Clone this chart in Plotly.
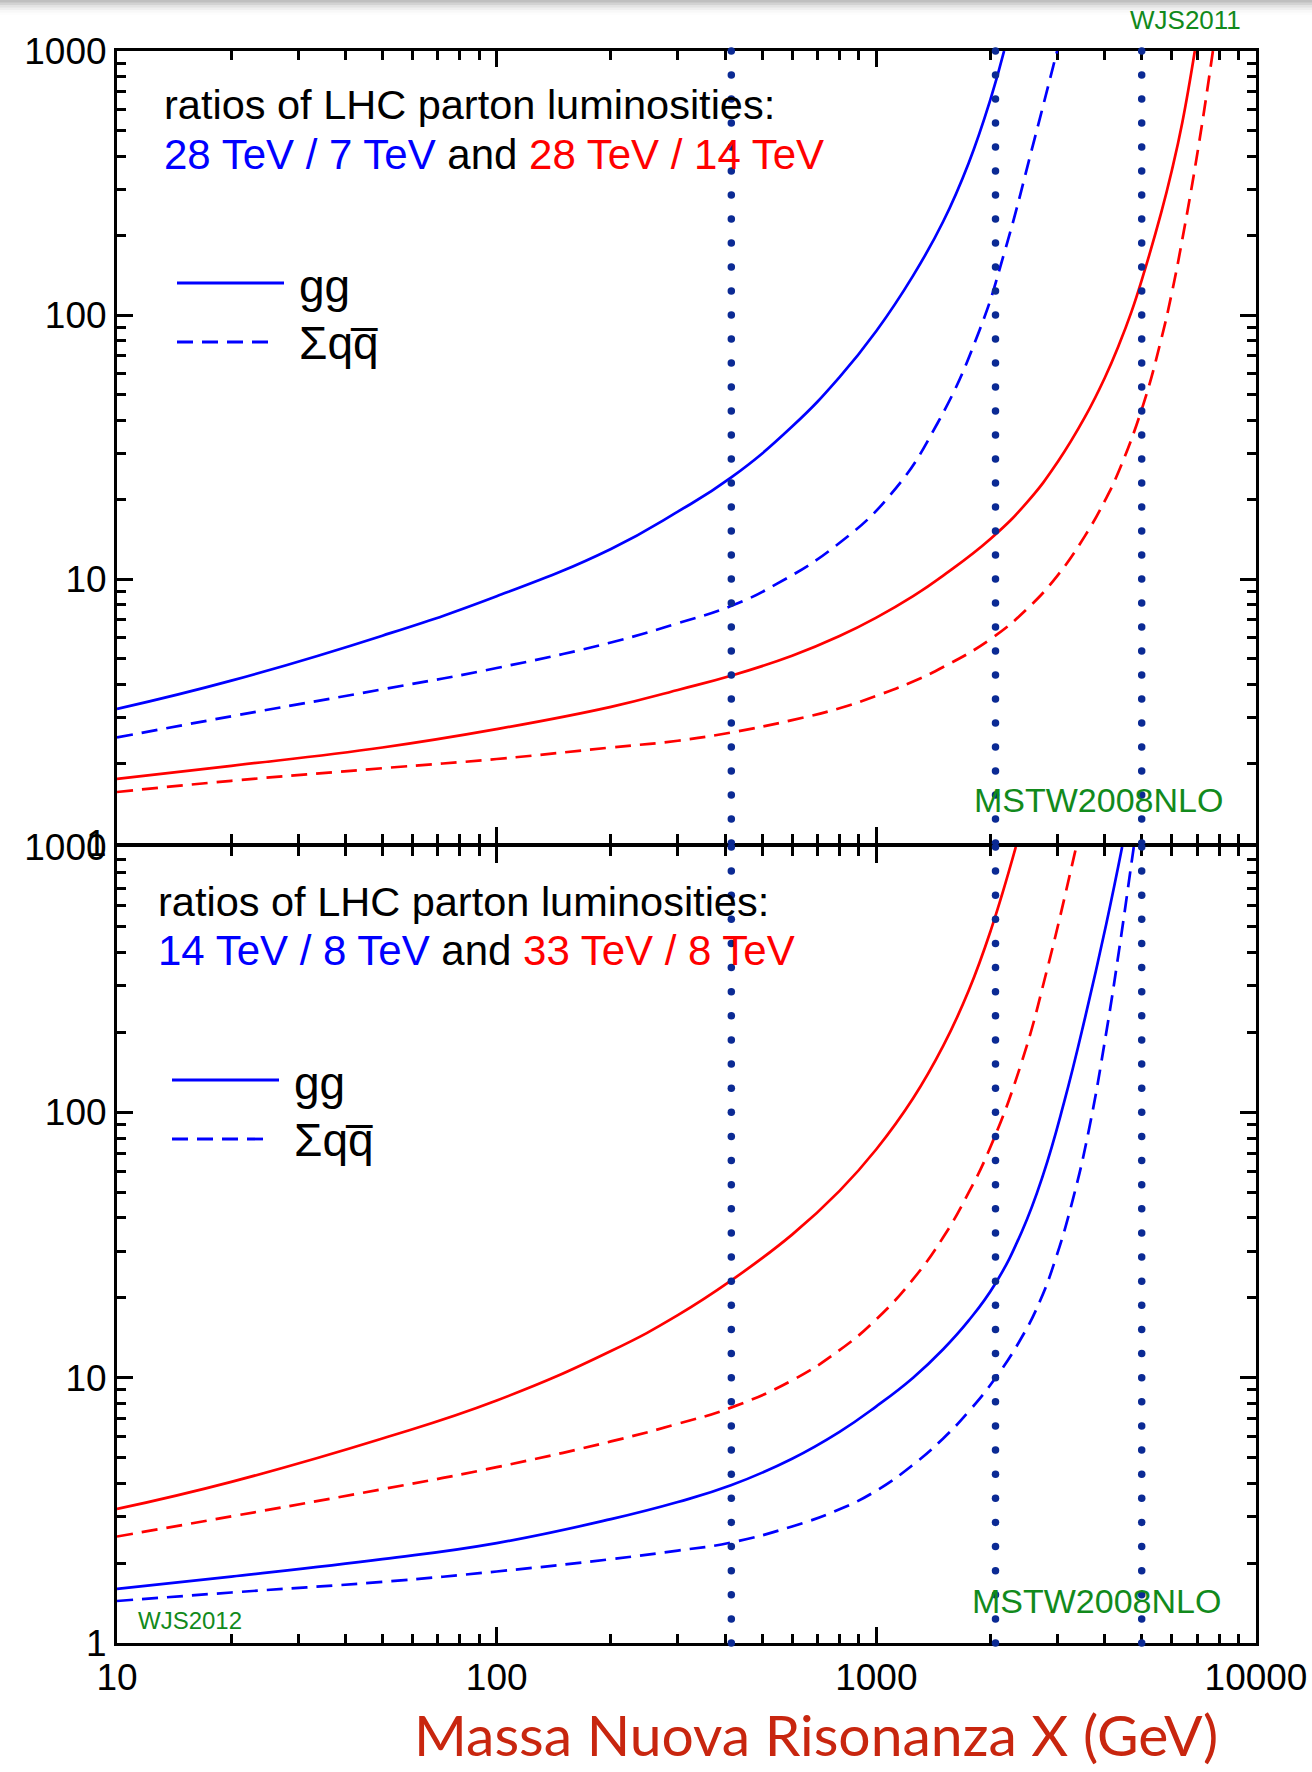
import numpy as np
import plotly.graph_objects as go

W, H = 1312, 1772

# ---------------------------------------------------------------
# Parton luminosity ratios versus resonance mass M_X (GeV)
# ---------------------------------------------------------------
# upper panel: 28 TeV / 7 TeV (blue) and 28 TeV / 14 TeV (red)
mass_28_7_gg = [10, 20, 50, 100, 200, 300, 414, 600, 800, 1000, 1250, 1500, 1750, 2000, 2170]
ratio_28_7_gg = [3.22, 4.12, 6.1, 8.6, 13.0, 18.0, 24.2, 37.8, 58.2, 87, 141, 226, 376, 659, 1000]

mass_28_7_qq = [10, 20, 50, 100, 200, 300, 414, 548, 784, 1094, 1449, 1872, 2183, 2611, 2929, 2993]
ratio_28_7_qq = [2.51, 3.02, 3.82, 4.6, 5.75, 6.8, 7.9, 9.6, 13.4, 21.0, 38.9, 88, 176, 465, 885, 1000]

mass_28_14_gg = [10, 20, 50, 100, 200, 300, 414, 600, 800, 1000, 1250, 1500, 2000, 2500, 3000, 3548, 4000, 4356, 4700, 5035, 5623, 6000, 6394, 6900]
ratio_28_14_gg = [1.75, 1.96, 2.30, 2.70, 3.28, 3.80, 4.3, 5.12, 6.08, 7.14, 8.61, 10.3, 14.2, 19.6, 27.7, 41.2, 58, 77.1, 103, 140, 243, 352, 535, 1000]

mass_28_14_qq = [10, 20, 50, 100, 200, 300, 414, 600, 800, 1000, 1250, 1500, 2000, 2500, 3000, 3548, 4000, 4356, 5035, 5623, 6000, 6394, 7079, 7700]
ratio_28_14_qq = [1.56, 1.72, 1.92, 2.08, 2.30, 2.44, 2.62, 2.92, 3.24, 3.61, 4.09, 4.64, 5.92, 7.73, 10.3, 14.6, 19.8, 25.7, 45.3, 80.5, 121, 193, 448, 1000]

# lower panel: 14 TeV / 8 TeV (blue) and 33 TeV / 8 TeV (red)
mass_33_8_gg = [10, 20, 50, 100, 200, 300, 414, 600, 800, 1000, 1250, 1500, 1750, 2000, 2330]
ratio_33_8_gg = [3.2, 4.05, 5.9, 8.2, 12.6, 17.2, 23.2, 34.6, 50.6, 72.6, 113, 178, 287, 483, 1000]

mass_33_8_qq = [10, 20, 50, 100, 200, 300, 414, 600, 800, 1000, 1250, 1500, 1750, 2000, 2416, 2818, 3288, 3360]
ratio_33_8_qq = [2.52, 3.0, 3.8, 4.6, 5.75, 6.7, 7.71, 9.77, 12.7, 16.6, 23.5, 33.8, 49.8, 74.3, 155, 346, 873, 1000]

mass_14_8_gg = [10, 20, 50, 100, 200, 300, 414, 600, 800, 1000, 1250, 1500, 1750, 2057, 2416, 2748, 3122, 3548, 4033, 4440]
ratio_14_8_gg = [1.60, 1.78, 2.07, 2.38, 2.93, 3.4, 3.93, 4.95, 6.25, 7.8, 10.0, 12.8, 16.4, 22.6, 35.5, 58, 109, 228, 513, 1000]

mass_14_8_qq = [10, 20, 50, 100, 200, 300, 414, 600, 800, 1000, 1250, 1500, 1750, 2057, 2416, 2700, 2965, 3300, 3639, 4033, 4356, 4699, 4765]
ratio_14_8_qq = [1.44, 1.55, 1.70, 1.86, 2.07, 2.23, 2.39, 2.75, 3.19, 3.75, 4.7, 5.9, 7.45, 9.95, 14.2, 19.5, 28, 47.5, 87.5, 200, 406, 869, 1000]

# resonance masses marked with dotted vertical lines
marker_masses = [415, 2060, 5000]

x_tick_vals = [10, 100, 1000, 10000]
x_tick_text = ["10", "100", "1000", "10000"]
y_tick_vals = [1, 10, 100, 1000]
y_tick_text = ["1", "10", "100", "1000"]

BLUE = "#0000ff"
RED = "#ff0000"
NAVY = "#0b2a94"
GREEN = "#128a1c"
TITLE_RED = "#c8260f"
FONT = "Liberation Sans, Arial, sans-serif"


def px(x):
    return x / W


def py(y):
    return 1 - y / H


# panel frames in pixels
X0, X1 = 117, 1256
TOP_Y0, TOP_Y1 = 51, 843
BOT_Y0, BOT_Y1 = 847, 1643

minor_x = [m * 10 ** d for d in range(1, 4) for m in range(2, 10)]
minor_y = [m * 10 ** d for d in range(0, 3) for m in range(2, 10)]


def axis_style(minor_vals, tickvals, ticktext, show_labels):
    return dict(
        type="log", automargin=False,
        showline=True, linecolor="black", linewidth=3, mirror="allticks",
        ticks="inside", ticklen=16, tickwidth=2.5, tickcolor="black",
        tickmode="array", tickvals=tickvals, ticktext=ticktext,
        showticklabels=show_labels,
        tickfont=dict(family=FONT, size=37, color="black"),
        showgrid=False, zeroline=False, layer="below traces",
        minor=dict(tickmode="array", tickvals=minor_vals, ticks="inside",
                   ticklen=9, tickwidth=2.5, tickcolor="black", showgrid=False),
    )


fig = go.Figure()

DASH = "16px,9px"
curves = [
    ("x", "y", mass_28_7_gg, ratio_28_7_gg, BLUE, "solid"),
    ("x", "y", mass_28_7_qq, ratio_28_7_qq, BLUE, DASH),
    ("x", "y", mass_28_14_gg, ratio_28_14_gg, RED, "solid"),
    ("x", "y", mass_28_14_qq, ratio_28_14_qq, RED, DASH),
    ("x2", "y2", mass_33_8_gg, ratio_33_8_gg, RED, "solid"),
    ("x2", "y2", mass_33_8_qq, ratio_33_8_qq, RED, DASH),
    ("x2", "y2", mass_14_8_gg, ratio_14_8_gg, BLUE, "solid"),
    ("x2", "y2", mass_14_8_qq, ratio_14_8_qq, BLUE, DASH),
]
for xa, ya, m, r, col, dash in curves:
    fig.add_trace(go.Scatter(
        x=m, y=r, mode="lines", xaxis=xa, yaxis=ya, showlegend=False,
        line=dict(color=col, width=2.7, dash=dash, shape="spline", smoothing=1.3),
        hoverinfo="skip",
    ))

# dotted vertical markers: round dots spaced evenly over each panel height
n_dots = 34
dot_levels = np.logspace(0, 3, n_dots)
for xa, ya in (("x", "y"), ("x2", "y2")):
    for m in marker_masses:
        fig.add_trace(go.Scatter(
            x=[m] * n_dots, y=dot_levels, mode="markers", xaxis=xa, yaxis=ya,
            marker=dict(size=7.5, color=NAVY, line=dict(width=0)),
            showlegend=False, cliponaxis=False, hoverinfo="skip",
        ))

fig.update_layout(
    width=W, height=H, autosize=False,
    margin=dict(l=0, r=0, t=0, b=0, pad=0, autoexpand=False),
    paper_bgcolor="white", plot_bgcolor="white",
    showlegend=False,
    xaxis=dict(domain=[px(X0), px(X1)], anchor="y", range=[1, 4],
               **axis_style(minor_x, x_tick_vals, x_tick_text, False)),
    xaxis2=dict(domain=[px(X0), px(X1)], anchor="y2", range=[1, 4],
                **axis_style(minor_x, x_tick_vals, x_tick_text, True)),
    yaxis=dict(domain=[py(TOP_Y1), py(TOP_Y0)], anchor="x", range=[0, 3],
               **axis_style(minor_y, y_tick_vals, y_tick_text, True)),
    yaxis2=dict(domain=[py(BOT_Y1), py(BOT_Y0)], anchor="x2", range=[0, 3],
                **axis_style(minor_y, y_tick_vals, y_tick_text, True)),
)

shapes = []
annotations = []


def text(x, y, s, size, color="black", family=FONT, xanchor="left"):
    annotations.append(dict(
        x=px(x), y=py(y), xref="paper", yref="paper", text=s, showarrow=False,
        xanchor=xanchor, yanchor="middle", align="left",
        font=dict(family=family, size=size, color=color),
    ))


def key_line(x0, x1, y, dash):
    shapes.append(dict(type="line", xref="paper", yref="paper",
                       x0=px(x0), x1=px(x1), y0=py(y), y1=py(y),
                       line=dict(color=BLUE, width=2.8, dash=dash)))


# upper panel labels
text(162, 105, "ratios of LHC parton luminosities:", 41.5)
text(162, 154, f"<span style='color:{BLUE}'>28 TeV / 7 TeV</span> and "
               f"<span style='color:{RED}'>28 TeV / 14 TeV</span>", 42)
key_line(177, 284, 283, "solid")
key_line(177, 274, 342, DASH)
text(297, 286, "gg", 46)
text(297, 343, "\u03a3qq\u0305", 46)
text(972, 800, "MSTW2008NLO", 34, GREEN)
text(1128, 20, "WJS2011", 26, GREEN)

# lower panel labels
text(156, 901, "ratios of LHC parton luminosities:", 41.5)
text(156, 950, f"<span style='color:{BLUE}'>14 TeV / 8 TeV</span> and "
               f"<span style='color:{RED}'>33 TeV / 8 TeV</span>", 42)
key_line(172, 279, 1080, "solid")
key_line(172, 269, 1139, DASH)
text(292, 1083, "gg", 46)
text(292, 1140, "\u03a3qq\u0305", 46)
text(970, 1601, "MSTW2008NLO", 34, GREEN)
text(136, 1620, "WJS2012", 24, GREEN)

# axis title
text(412, 1734, "Massa Nuova Risonanza X (GeV)", 57, TITLE_RED, family="Lato, sans-serif")

# soft shadow along the top edge
for i, op in enumerate([0.22, 0.16, 0.11, 0.07, 0.04, 0.02]):
    shapes.append(dict(type="rect", xref="paper", yref="paper",
                       x0=0, x1=1, y0=py(2.5 * (i + 1)), y1=1,
                       fillcolor="#808080", opacity=op, line=dict(width=0),
                       layer="below"))

fig.update_layout(shapes=shapes, annotations=annotations)
fig.write_html("out.html")
